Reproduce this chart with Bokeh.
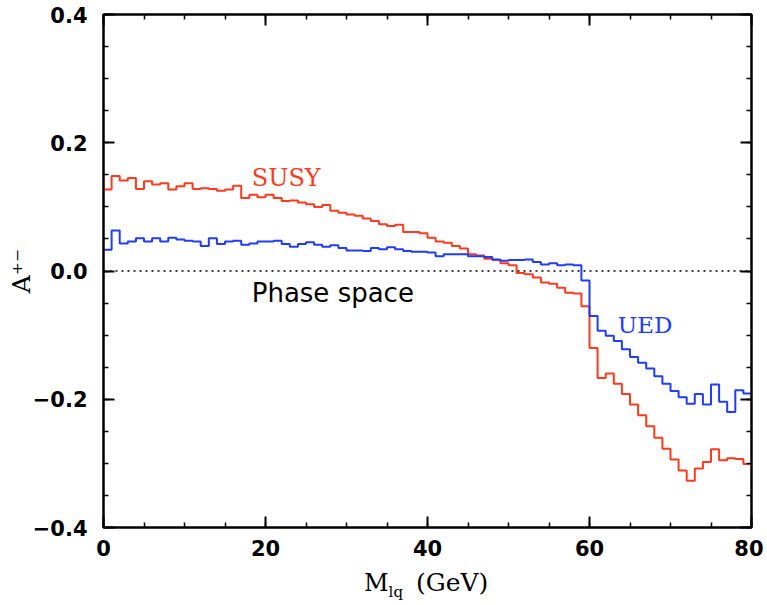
from bokeh.plotting import figure
from bokeh.models import (Range1d, LinearAxis, SingleIntervalTicker,
                          CustomJSTickFormatter, Label, Span, Div)
from bokeh.layouts import column
from bokeh.embed import file_html
from bokeh.resources import INLINE

# ---- data (1 GeV bins from 0 to 80 GeV) ----
bin_edges = list(range(0, 81))
susy = [0.127, 0.148, 0.141, 0.145, 0.128, 0.140, 0.135, 0.137, 0.127, 0.132,
        0.137, 0.128, 0.129, 0.128, 0.125, 0.127, 0.133, 0.114, 0.119, 0.115,
        0.119, 0.114, 0.109, 0.110, 0.107, 0.104, 0.100, 0.103, 0.094, 0.091,
        0.088, 0.086, 0.082, 0.078, 0.073, 0.070, 0.072, 0.061, 0.061, 0.059,
        0.052, 0.046, 0.044, 0.039, 0.035, 0.026, 0.024, 0.019, 0.017, 0.012,
        0.009, -0.003, -0.005, -0.010, -0.018, -0.020, -0.026, -0.034, -0.035, -0.055,
        -0.120, -0.167, -0.160, -0.176, -0.192, -0.208, -0.225, -0.242, -0.260, -0.277,
        -0.294, -0.311, -0.327, -0.308, -0.298, -0.278, -0.295, -0.292, -0.293, -0.301]
ued = [0.033, 0.063, 0.043, 0.046, 0.051, 0.046, 0.051, 0.046, 0.052, 0.049,
       0.047, 0.046, 0.039, 0.051, 0.042, 0.046, 0.047, 0.041, 0.043, 0.046,
       0.046, 0.047, 0.042, 0.038, 0.042, 0.045, 0.041, 0.038, 0.040, 0.036,
       0.032, 0.032, 0.031, 0.036, 0.034, 0.037, 0.034, 0.031, 0.030, 0.030,
       0.029, 0.023, 0.026, 0.026, 0.026, 0.023, 0.023, 0.022, 0.018, 0.016,
       0.017, 0.017, 0.018, 0.014, 0.010, 0.012, 0.009, 0.010, 0.009, -0.015,
       -0.070, -0.093, -0.101, -0.109, -0.122, -0.134, -0.143, -0.152, -0.164, -0.176,
       -0.187, -0.197, -0.207, -0.192, -0.208, -0.177, -0.204, -0.220, -0.186, -0.191]
reference_level = 0.0

RED = "#ff3a1e"
BLUE = "#1f3cff"

p = figure(width=763, height=565, x_range=Range1d(0, 80), y_range=Range1d(-0.4, 0.4),
           output_backend="svg", toolbar_location=None,
           x_axis_type=None, y_axis_type=None,
           min_border_left=103, min_border_right=12, min_border_top=14, min_border_bottom=38)
p.background_fill_color = "white"
p.border_fill_color = "white"
p.outline_line_color = "black"
p.outline_line_width = 2

fmt_y = CustomJSTickFormatter(code="return (tick < -1e-9 ? '\u2212' : '') + Math.abs(tick).toFixed(1);")
fmt_x = CustomJSTickFormatter(code="return tick.toFixed(0);")


def make_axis(interval, fmt, show_labels, standoff=12):
    ax = LinearAxis(ticker=SingleIntervalTicker(interval=interval, num_minor_ticks=4))
    ax.axis_line_color = "black"
    ax.axis_line_width = 2
    ax.major_tick_in = 11
    ax.major_tick_out = 0
    ax.minor_tick_in = 5
    ax.minor_tick_out = 0
    ax.major_tick_line_width = 2
    ax.minor_tick_line_width = 1.5
    ax.major_tick_line_color = "black"
    ax.minor_tick_line_color = "black"
    if show_labels:
        ax.formatter = fmt
        ax.major_label_text_font = "DejaVu Sans"
        ax.major_label_text_font_style = "bold"
        ax.major_label_text_font_size = "21px"
        ax.major_label_text_color = "black"
        ax.major_label_standoff = standoff
    else:
        ax.major_label_text_font_size = "0px"
        ax.major_label_standoff = 0
        ax.major_label_text_alpha = 0
    return ax


x_axis = make_axis(20, fmt_x, True, 12)
y_axis = make_axis(0.2, fmt_y, True, 16)
y_axis.axis_label = "A\u207a\u207b"
y_axis.axis_label_text_font = "DejaVu Serif"
y_axis.axis_label_text_font_style = "normal"
y_axis.axis_label_text_font_size = "25px"
y_axis.axis_label_text_color = "black"
y_axis.axis_label_standoff = -6
p.add_layout(x_axis, "below")
p.add_layout(y_axis, "left")
p.add_layout(make_axis(20, fmt_x, False), "above")
p.add_layout(make_axis(0.2, fmt_y, False), "right")

p.add_layout(Span(location=reference_level, dimension="width", line_color="black",
                  line_width=1.5, line_dash="2 4"))

p.step(x=bin_edges, y=susy + susy[-1:], mode="after", line_color=RED, line_width=2)
p.step(x=bin_edges, y=ued + ued[-1:], mode="after", line_color=BLUE, line_width=2)

# in-plot annotations
p.add_layout(Label(x=18.3, y=0.145, text="SUSY", text_font="DejaVu Serif",
                   text_font_size="24px", text_color=RED, text_baseline="alphabetic"))
p.add_layout(Label(x=63.5, y=-0.084, text="UED", text_font="DejaVu Serif",
                   text_font_size="23px", text_color=BLUE, text_baseline="alphabetic"))
p.add_layout(Label(x=18.3, y=-0.034, text="Phase space", text_font="DejaVu Sans",
                   text_font_size="26px", text_color="black", text_baseline="alphabetic"))

# x axis title: M_lq (GeV), as HTML text beneath the figure
title_html = (
    '<div style="padding-left:364px; padding-top:3px; font-family:\'DejaVu Serif\'; '
    'font-size:24px; line-height:30px; color:black; white-space:nowrap;">'
    'M<span style="font-size:15px; position:relative; top:6px;">lq</span>'
    '<span style="padding-left:13px; font-size:25px;">(GeV)</span></div>'
)
x_title = Div(text=title_html, width=763, height=38, margin=0)

layout = column(p, x_title, spacing=0)
open("out.html", "w").write(file_html(layout, INLINE))
